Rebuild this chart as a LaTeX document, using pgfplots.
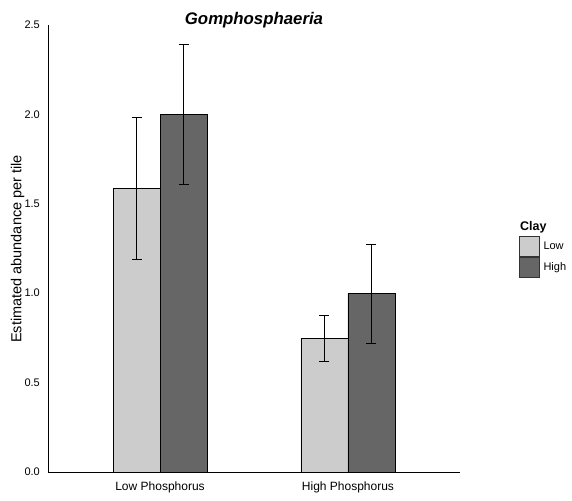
\documentclass[border=0pt]{standalone}
\usepackage{fontspec}
\setmainfont{Liberation Sans}
\usepackage{pgfplots}
\pgfplotsset{compat=1.18}
\definecolor{lowclay}{HTML}{CCCCCC}
\definecolor{highclay}{HTML}{666666}

\begin{document}
\begin{tikzpicture}
\path[use as bounding box] (0,0) rectangle (572pt,500pt);
\begin{axis}[
    at={(48pt,28pt)}, anchor=south west,
    scale only axis, clip=false,
    width=412pt, height=447pt,
    xmin=-0.596, xmax=1.596,
    ymin=0, ymax=2.5,
    axis x line*=bottom, axis y line*=left,
    x axis line style={-, line width=0.9pt},
    y axis line style={-, line width=0.9pt},
    major tick length=0pt,
    xtick={0,1},
    xticklabels={Low Phosphorus, High Phosphorus},
    ytick={0,0.5,1,1.5,2,2.5},
    /pgf/number format/fixed,
    /pgf/number format/fixed zerofill,
    /pgf/number format/precision=1,
    /pgf/number format/assume math mode=true,
    xticklabel style={font=\fontsize{12}{14}\selectfont, anchor=base, yshift=-19pt, inner sep=0pt},
    yticklabel style={font=\fontsize{11}{13}\selectfont, anchor=east, inner sep=0pt, xshift=-8pt},
    title={Gomphosphaeria},
    title style={font=\fontsize{16.8}{20}\selectfont\bfseries\itshape, at={(0.5,1)}, anchor=base, yshift=-6pt},
    ylabel={Estimated abundance per tile},
    ylabel style={font=\fontsize{14.5}{17}\selectfont, at={(axis description cs:-0.074,0.499)}, anchor=center},
    ybar, bar width=0.25,
    legend style={at={(axis description cs:1.1432,0.528)}, anchor=north west,
        draw=none, fill=none, inner sep=0pt, row sep=0pt, column sep=3.5pt,
        font=\fontsize{11}{13}\selectfont, nodes={inner sep=0pt, anchor=west}},
    legend image code/.code={\draw[#1, draw=black!80] (0pt,-10pt) rectangle (20pt,10pt);},
]
\addplot+[bar shift=-0.125, fill=lowclay, draw=black, line width=0.8pt,
    error bars/.cd, y dir=both, y explicit,
    error bar style={black, line width=0.7pt},
    error mark options={rotate=90, mark size=5pt, black, line width=0.7pt}]
    coordinates {
    (0,1.585) +- (0,0.398)
    (1,0.748) +- (0,0.130)
};
\addlegendentry{Low}
\addplot+[bar shift=0.125, fill=highclay, draw=black, line width=0.8pt,
    error bars/.cd, y dir=both, y explicit,
    error bar style={black, line width=0.7pt},
    error mark options={rotate=90, mark size=5pt, black, line width=0.7pt}]
    coordinates {
    (0,2.000) +- (0,0.390)
    (1,0.998) +- (0,0.276)
};
\addlegendentry{High}
\node[anchor=base west, inner sep=0pt, font=\fontsize{12.5}{15}\selectfont\bfseries]
    at (axis description cs:1.1456,0.541) {Clay};
\end{axis}
\end{tikzpicture}
\end{document}
